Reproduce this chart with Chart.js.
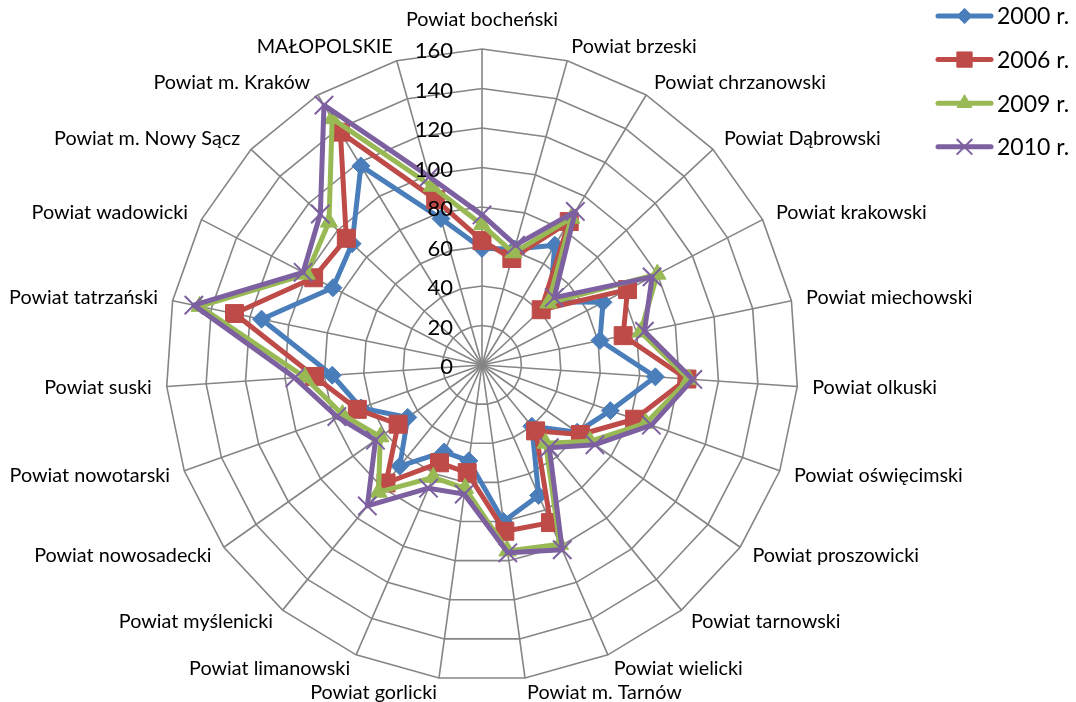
<!DOCTYPE html>
<html>
<head>
<meta charset="utf-8">
<title>Małopolska – powiaty 2000–2010</title>
<script src="https://cdn.jsdelivr.net/npm/chart.js@4/dist/chart.umd.min.js"></script>
<style>
  html, body { margin: 0; padding: 0; background: #ffffff; }
  #wrap { width: 1076px; height: 702px; position: relative; }
</style>
</head>
<body>
<div id="wrap"><canvas id="chart" width="1076" height="702"></canvas></div>
<script>
// Categories around the radar, clockwise from the top
const categories = [
  'Powiat bocheński', 'Powiat brzeski', 'Powiat chrzanowski', 'Powiat Dąbrowski',
  'Powiat krakowski', 'Powiat miechowski', 'Powiat olkuski', 'Powiat oświęcimski',
  'Powiat proszowicki', 'Powiat tarnowski', 'Powiat wielicki', 'Powiat m. Tarnów',
  'Powiat gorlicki', 'Powiat limanowski', 'Powiat myślenicki', 'Powiat nowosadecki',
  'Powiat nowotarski', 'Powiat suski', 'Powiat tatrzański', 'Powiat wadowicki',
  'Powiat m. Nowy Sącz', 'Powiat m. Kraków', 'MAŁOPOLSKIE'
];

const seriesNames = ['2000 r.', '2006 r.', '2009 r.', '2010 r.'];

const values2000 = [59, 61, 71, 47, 69, 61, 88, 69, 59, 40, 72, 80, 49, 48, 66, 46, 65, 76, 114, 85, 90, 118, 77];
const values2006 = [63, 56, 85, 41, 83, 73, 104, 82, 61, 43, 87, 85, 55, 54, 77, 52, 67, 85, 128, 96, 94, 138, 87];
const values2009 = [71, 59, 87, 46, 100, 82, 105, 88, 67, 51, 99, 95, 63, 62, 83, 63, 75, 90, 146, 100, 106, 146, 94];
const values2010 = [76, 63, 91, 50, 97, 84, 107, 91, 70, 54, 102, 96, 66, 68, 92, 66, 78, 95, 149, 102, 112, 154, 99];

const tickValues = [0, 20, 40, 60, 80, 100, 120, 140, 160];

const FONT = 'Lato, "Open Sans", sans-serif';
const GRID = '#858585';

function series(label, data, color, style, radius, borderW, order) {
  return {
    label, data, order,
    borderColor: color, backgroundColor: color,
    borderWidth: 5, borderJoinStyle: 'round', fill: false, tension: 0,
    pointStyle: style, pointRadius: radius, pointHoverRadius: radius,
    pointBackgroundColor: color, pointBorderColor: color, pointBorderWidth: borderW
  };
}

// Category names placed just outside the outer ring
const pointLabelPlugin = {
  id: 'outerLabels',
  afterDatasetsDraw(chart) {
    const scale = chart.scales.r;
    const ctx = chart.ctx;
    ctx.save();
    ctx.font = '19.8px ' + FONT;
    ctx.fillStyle = '#000000';
    categories.forEach((name, i) => {
      const p = scale.getPointPosition(i, scale.drawingArea + 15);
      const s = Math.sin(scale.getIndexAngle(i));
      if (Math.abs(s) < 1e-6) {
        ctx.textAlign = 'center';
        ctx.textBaseline = 'alphabetic';
        ctx.fillText(name, p.x, p.y - 8);
      } else {
        ctx.textAlign = s > 0 ? 'left' : 'right';
        ctx.textBaseline = 'middle';
        ctx.fillText(name, p.x, p.y);
      }
    });
    ctx.restore();
  }
};

// Value labels to the left of the vertical axis
const tickLabelPlugin = {
  id: 'axisValues',
  afterDatasetsDraw(chart) {
    const scale = chart.scales.r;
    const ctx = chart.ctx;
    ctx.save();
    ctx.font = '22px ' + FONT;
    ctx.fillStyle = '#000000';
    ctx.textAlign = 'right';
    ctx.textBaseline = 'middle';
    tickValues.forEach(v => {
      const y = scale.yCenter - scale.getDistanceFromCenterForValue(v);
      ctx.fillText(String(v), scale.xCenter - 29, y + 2);
    });
    ctx.restore();
  }
};

// Legend in the top-right corner: line sample with marker, then the year
const sideLegendPlugin = {
  id: 'sideLegend',
  afterDraw(chart) {
    const ctx = chart.ctx;
    const left = 938, right = 991, textX = 997, top = 16, gap = 43.6;
    ctx.save();
    chart.data.datasets.forEach((ds, i) => {
      const y = top + i * gap;
      ctx.strokeStyle = ds.borderColor;
      ctx.lineWidth = 5;
      ctx.lineCap = 'round';
      ctx.beginPath();
      ctx.moveTo(left, y);
      ctx.lineTo(right, y);
      ctx.stroke();
      ctx.fillStyle = ds.pointBackgroundColor;
      ctx.strokeStyle = ds.pointBorderColor;
      ctx.lineWidth = ds.pointBorderWidth;
      ctx.lineCap = 'butt';
      Chart.helpers.drawPoint(ctx, {
        pointStyle: ds.pointStyle, rotation: 0,
        radius: ds.pointRadius * 0.85, borderWidth: ds.pointBorderWidth
      }, (left + right) / 2, y);
      ctx.fillStyle = '#000000';
      ctx.font = '23px ' + FONT;
      ctx.textAlign = 'left';
      ctx.textBaseline = 'middle';
      ctx.fillText(ds.label, textX, y + 1);
    });
    ctx.restore();
  }
};

new Chart(document.getElementById('chart'), {
  type: 'radar',
  data: {
    labels: categories,
    datasets: [
      series(seriesNames[0], values2000, '#4A7EBB', 'rectRot', 9, 1, 3),
      series(seriesNames[1], values2006, '#BE4B48', 'rect', 12.7, 1, 2),
      series(seriesNames[2], values2009, '#98B954', 'triangle', 10, 1, 1),
      series(seriesNames[3], values2010, '#7D60A0', 'crossRot', 13, 2, 0)
    ]
  },
  options: {
    responsive: false,
    animation: false,
    devicePixelRatio: 1,
    layout: { padding: { left: 166, right: 278, top: 49, bottom: 21 } },
    plugins: {
      legend: { display: false },
      tooltip: { enabled: false }
    },
    elements: { line: { tension: 0 } },
    scales: {
      r: {
        min: 0,
        max: 160,
        startAngle: 0,
        ticks: { stepSize: 20, display: false },
        grid: { color: GRID, lineWidth: 1.6, circular: false },
        angleLines: { color: GRID, lineWidth: 1.6 },
        pointLabels: { display: false }
      }
    }
  },
  plugins: [pointLabelPlugin, tickLabelPlugin, sideLegendPlugin]
});
</script>
</body>
</html>
